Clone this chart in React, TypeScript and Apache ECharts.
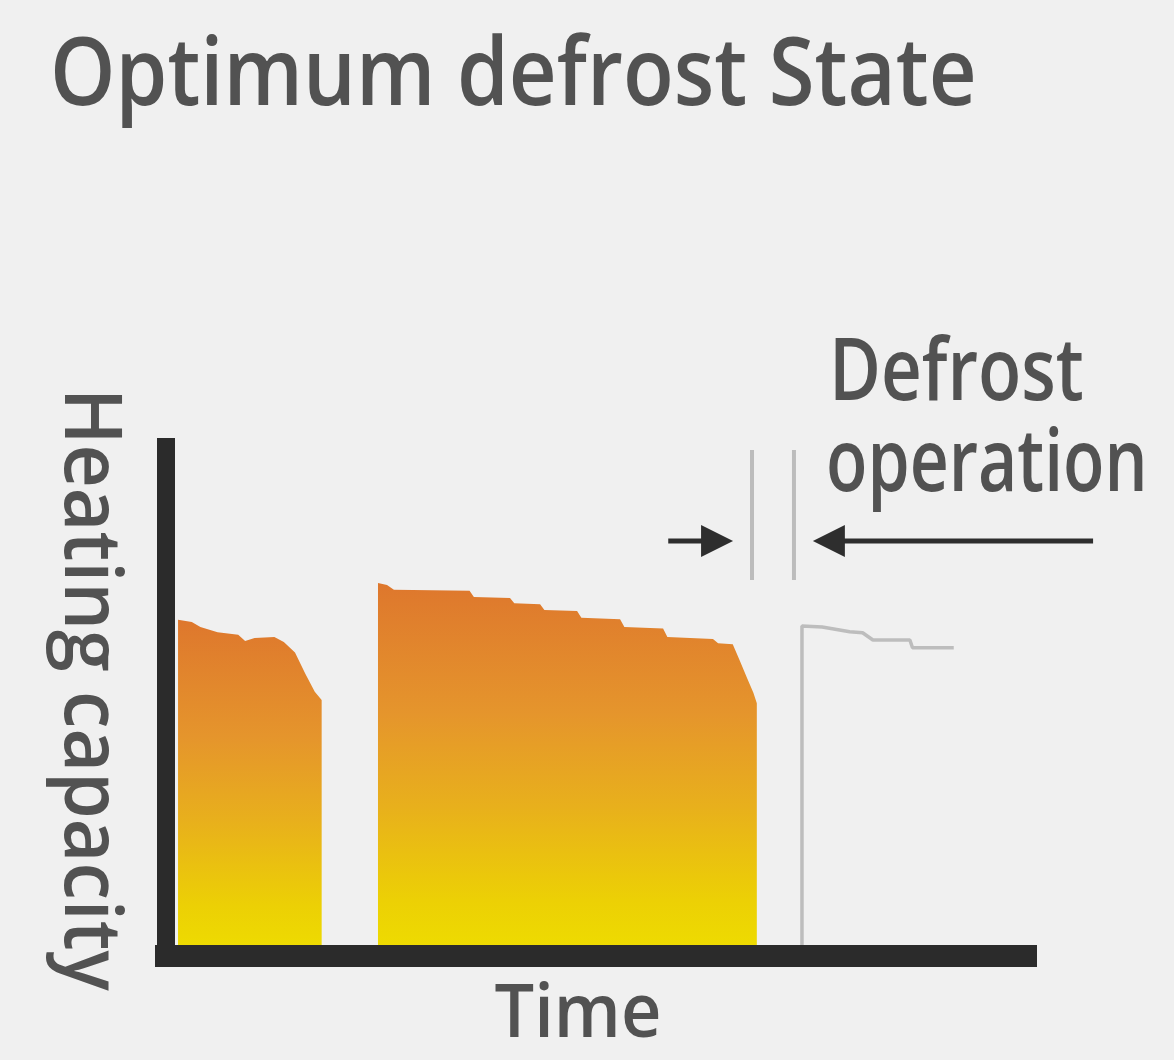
import React, { useEffect, useRef } from "react";
import * as echarts from "echarts";

// ---- texts ----
const titleText = "Optimum defrost State";
const yAxisName = "Heating capacity";
const xAxisName = "Time";
const defrostLabelLines = ["Defrost", "operation"];

// ---- data (time, heating capacity) ----
const cycle1: [number, number][] = [
  [1.4, 0], [1.4, 64.9], [3.0, 64.5], [4.0, 63.5], [6.0, 62.5], [8.4, 62.0],
  [9.2, 60.8], [10.3, 61.4], [12.6, 61.6], [13.7, 60.6], [15.0, 58.6],
  [16.2, 54.5], [17.3, 51.0], [18.1, 49.4], [18.1, 0],
];
const cycle2: [number, number][] = [
  [24.65, 0], [24.65, 72.0], [25.7, 71.6], [26.5, 70.7], [35.3, 70.5], [35.8, 69.3],
  [40.0, 69.1], [40.5, 68.1], [43.5, 67.9], [44.0, 66.8], [47.8, 66.6], [48.3, 65.3],
  [52.8, 65.0], [53.3, 63.5], [57.8, 63.2], [58.3, 61.6], [63.6, 61.2], [64.2, 60.4],
  [65.9, 60.2], [66.7, 57.1], [67.6, 53.5], [68.3, 50.8], [68.7, 48.8], [68.7, 0],
];
const recovery: [number, number][] = [
  [73.95, 0], [73.95, 63.7], [76.3, 63.5], [79.5, 62.6], [81.0, 62.4], [82.2, 61.0],
  [86.5, 61.0], [86.8, 59.5], [91.6, 59.5],
];
const defrostWindow = [68.14, 73.02];
const defrostMarkerRange = [72.6, 97.7];
const arrowLevel = 80.1;
const arrowLeftTail = 58.4;
const arrowRightTail = 107.8;

const TEXT = "#525252";
const FONT = "Open Sans";

export default function App() {
  const ref = useRef<HTMLDivElement>(null);
  useEffect(() => {
    const chart = echarts.init(ref.current!, null, { renderer: "svg" });
    const fill = () =>
      new echarts.graphic.LinearGradient(0, 0, 0, 1, [
        { offset: 0, color: "#de772d" },
        { offset: 0.35, color: "#e5952c" },
        { offset: 0.6, color: "#e8b01c" },
        { offset: 0.85, color: "#ecd005" },
        { offset: 1, color: "#eedd00" },
      ]);
    const areaSeries = (name: string, data: [number, number][]) => ({
      name,
      type: "line",
      data,
      symbol: "none",
      lineStyle: { width: 0 },
      areaStyle: { color: fill(), opacity: 1 },
      z: 2,
    });
    chart.setOption({
      animation: false,
      backgroundColor: "#f0f0f0",
      grid: { left: 166, top: 438, right: 148, bottom: 104 },
      xAxis: {
        type: "value", min: 0, max: 100, z: 10,
        axisLine: { show: true, lineStyle: { color: "#2b2b2b", width: 22, cap: "square" } },
        axisTick: { show: false }, axisLabel: { show: false }, splitLine: { show: false },
      },
      yAxis: {
        type: "value", min: 0, max: 100, z: 10,
        axisLine: { show: true, lineStyle: { color: "#2b2b2b", width: 18, cap: "butt" } },
        axisTick: { show: false }, axisLabel: { show: false }, splitLine: { show: false },
      },
      series: [
        areaSeries("cycle1", cycle1),
        areaSeries("cycle2", cycle2),
        {
          name: "recovery", type: "line", data: recovery, symbol: "none",
          lineStyle: { color: "#bdbdbd", width: 3.5 }, z: 3,
        },
      ],
    });

    const px = (x: number, y: number) =>
      chart.convertToPixel({ gridIndex: 0 }, [x, y]) as number[];

    const graphics: any[] = [];
    // defrost marker lines
    defrostWindow.forEach((t) => {
      const a = px(t, defrostMarkerRange[0]);
      const b = px(t, defrostMarkerRange[1]);
      graphics.push({
        type: "line",
        shape: { x1: a[0], y1: a[1], x2: b[0], y2: b[1] },
        style: { stroke: "#bcbcbc", lineWidth: 4 },
      });
    });
    // arrows
    const arrow = (tail: number, tip: number) => {
      const p0 = px(tail, arrowLevel);
      const p1 = px(tip, arrowLevel);
      const dir = Math.sign(p1[0] - p0[0]);
      const headLen = 32;
      const half = 16;
      const baseX = p1[0] - dir * headLen;
      graphics.push({
        type: "line",
        shape: { x1: p0[0], y1: p0[1], x2: baseX + dir * 4, y2: p1[1] },
        style: { stroke: "#2e2e2e", lineWidth: 5 },
      });
      graphics.push({
        type: "polygon",
        shape: { points: [[p1[0], p1[1]], [baseX, p1[1] - half], [baseX, p1[1] + half]] },
        style: { fill: "#2e2e2e" },
      });
    };
    arrow(arrowLeftTail, defrostWindow[0] - 2.2);
    arrow(arrowRightTail, defrostWindow[1] + 2.2);

    const txt = (text: string, x: number, y: number, fontSize: number, scaleX: number, extra: any = {}) => ({
      type: "text",
      x, y, scaleX,
      ...extra,
      style: {
        text, fontSize, fontFamily: FONT, fontWeight: 600, fill: TEXT,
        align: extra.align || "left", verticalAlign: "middle",
      },
    });
    graphics.push(txt(titleText, 50, 68, 94, 0.886));
    graphics.push(txt(defrostLabelLines[0], 829, 366, 87, 0.815));
    graphics.push(txt(defrostLabelLines[1], 826, 458, 87, 0.78));
    graphics.push({
      type: "text",
      x: 96, y: 388, rotation: -Math.PI / 2, scaleX: 0.94,
      style: { text: yAxisName, fontSize: 80, fontFamily: FONT, fontWeight: 600, fill: TEXT, align: "left", verticalAlign: "middle" },
    });
    graphics.push({
      type: "text",
      x: 578, y: 1008, scaleX: 0.95,
      style: { text: xAxisName, fontSize: 74, fontFamily: FONT, fontWeight: 600, fill: TEXT, align: "center", verticalAlign: "middle" },
    });

    chart.setOption({ graphic: graphics });
    return () => chart.dispose();
  }, []);
  return (
    <div
      ref={ref}
      style={{ position: "absolute", left: 0, top: 0, width: 1174, height: 1060 }}
    />
  );
}
